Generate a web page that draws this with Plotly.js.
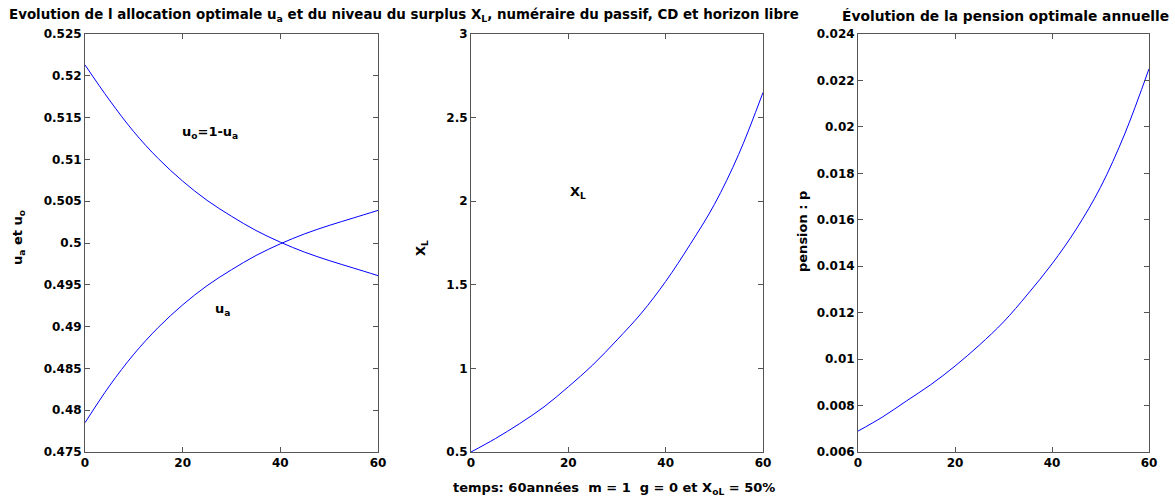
<!DOCTYPE html>
<html>
<head>
<meta charset="utf-8">
<script src="https://cdn.plot.ly/plotly-3.0.1.min.js"></script>
<style>html,body{margin:0;padding:0;background:#fff}#chart{width:1175px;height:498px}</style>
</head>
<body>
<div id="chart"></div>
<script>
// time (years)
var temps = [0, 5, 10, 15, 20, 25, 30, 35, 40, 45, 50, 55, 60];
// allocation optimale u_a and u_o = 1 - u_a
var ua = [0.4785, 0.4829, 0.4867, 0.4899, 0.4926, 0.4949, 0.4968, 0.4985, 0.4999, 0.5011, 0.5021, 0.5030, 0.5039];
var uo = [0.5213, 0.5171, 0.5133, 0.5101, 0.5074, 0.5051, 0.5032, 0.5015, 0.5001, 0.4989, 0.4979, 0.4970, 0.4961];
// niveau du surplus X_L
var xl = [0.50, 0.58, 0.67, 0.77, 0.89, 1.02, 1.17, 1.33, 1.52, 1.74, 1.98, 2.28, 2.65];
// pension optimale annuelle
var pension = [0.0069, 0.0075, 0.0082, 0.0089, 0.0097, 0.0106, 0.0116, 0.0128, 0.0141, 0.0156, 0.0174, 0.0197, 0.0225];
// tick values
var xTicks = [0, 20, 40, 60];

var W = 1175, H = 498;
var fam = '"DejaVu Sans", Verdana, sans-serif';
var tf = {family: fam, size: 12, color: '#000', weight: 'bold'};
var lf = {family: fam, size: 13, color: '#000', weight: 'bold'};
var lineStyle = {color: '#0000ff', width: 1, shape: 'spline'};
var TOP = 34, BOT = 452;

function px(x) { return x / W; }
function py(y) { return 1 - y / H; }

var traces = [
  {x: temps, y: ua, xaxis: 'x', yaxis: 'y', mode: 'lines', line: lineStyle, hoverinfo: 'skip'},
  {x: temps, y: uo, xaxis: 'x', yaxis: 'y', mode: 'lines', line: lineStyle, hoverinfo: 'skip'},
  {x: temps, y: xl, xaxis: 'x2', yaxis: 'y2', mode: 'lines', line: lineStyle, hoverinfo: 'skip'},
  {x: temps, y: pension, xaxis: 'x3', yaxis: 'y3', mode: 'lines', line: lineStyle, hoverinfo: 'skip'}
];

function xax(d0, d1, anchor) {
  return {domain: [px(d0), px(d1)], anchor: anchor, range: [0, 60], tickvals: xTicks,
    showgrid: false, zeroline: false, showline: true, mirror: 'ticks', linecolor: '#555', linewidth: 1,
    ticks: 'inside', ticklen: 5, tickcolor: '#555', tickfont: tf, fixedrange: true};
}
function yax(range, dtick, anchor) {
  return {domain: [py(BOT), py(TOP)], anchor: anchor, range: range, dtick: dtick, tick0: range[0],
    showgrid: false, zeroline: false, showline: true, mirror: 'ticks', linecolor: '#555', linewidth: 1,
    ticks: 'inside', ticklen: 5, tickcolor: '#555', tickfont: tf, fixedrange: true};
}
function ann(x, y, text, opts) {
  return Object.assign({xref: 'paper', yref: 'paper', x: px(x), y: py(y), xanchor: 'center', yanchor: 'middle',
    showarrow: false, text: text, font: lf}, opts || {});
}

var layout = {
  width: W, height: H,
  margin: {l: 0, r: 0, t: 0, b: 0},
  paper_bgcolor: '#fff', plot_bgcolor: '#fff',
  showlegend: false,
  xaxis: xax(85, 378, 'y'),
  yaxis: yax([0.475, 0.525], 0.005, 'x'),
  xaxis2: xax(471, 763, 'y2'),
  yaxis2: yax([0.5, 3], 0.5, 'x2'),
  xaxis3: xax(858, 1149, 'y3'),
  yaxis3: yax([0.006, 0.024], 0.002, 'x3'),
  annotations: [
    ann(404, 16, 'Evolution de l allocation optimale u<sub>a</sub> et du niveau du surplus X<sub>L</sub>, numéraire du passif, CD et horizon libre',
        {font: Object.assign({}, lf, {size: 13.4})}),
    ann(1006, 16, 'Évolution de la pension optimale annuelle', {font: Object.assign({}, lf, {size: 13.8})}),
    ann(614, 488, 'temps: 60années  m = 1  g = 0 et X<sub>oL</sub> = 50%'),
    ann(19, 238, 'u<sub>a</sub> et u<sub>o</sub>', {textangle: -90}),
    ann(421, 248, 'X<sub>L</sub>', {textangle: -90}),
    ann(802, 232, 'pension : p', {textangle: -90}),
    {xref: 'x', yref: 'y', x: 19.5, y: 0.5132, xanchor: 'left', yanchor: 'middle', showarrow: false,
     text: 'u<sub>o</sub>=1-u<sub>a</sub>', font: lf},
    {xref: 'x', yref: 'y', x: 26.2, y: 0.4921, xanchor: 'left', yanchor: 'middle', showarrow: false,
     text: 'u<sub>a</sub>', font: lf},
    {xref: 'x2', yref: 'y2', x: 19.9, y: 2.05, xanchor: 'left', yanchor: 'middle', showarrow: false,
     text: 'X<sub>L</sub>', font: lf}
  ]
};

Plotly.newPlot('chart', traces, layout, {displayModeBar: false, staticPlot: true});
</script>
</body>
</html>
